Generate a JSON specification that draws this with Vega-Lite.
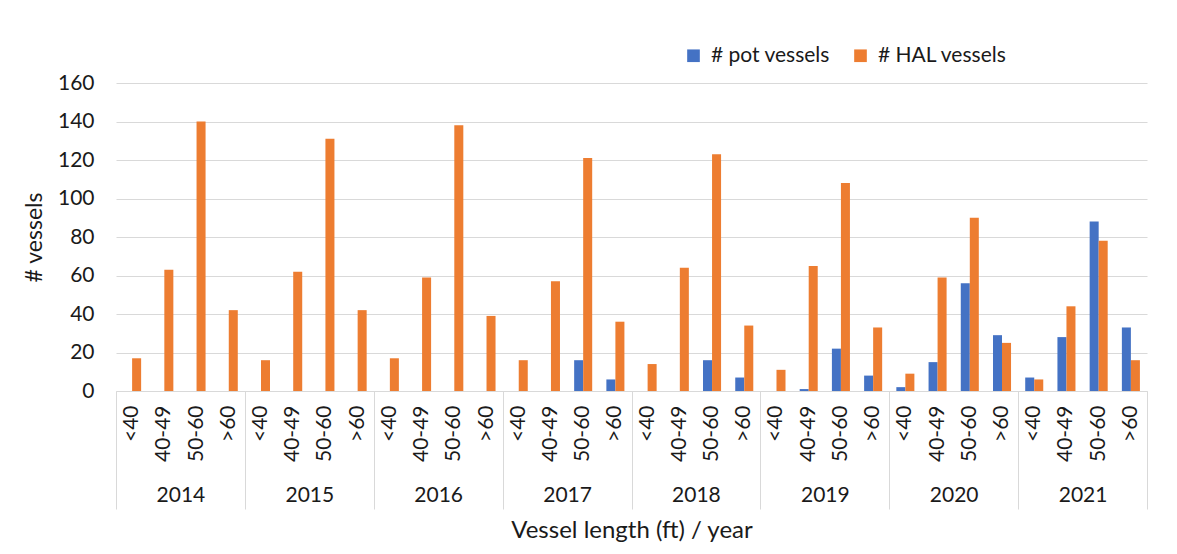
{
  "$schema": "https://vega.github.io/schema/vega-lite/v6.json",
  "width": 1031,
  "height": 308,
  "autosize": {"type": "none"},
  "padding": {"left": 116, "top": 83, "right": 30, "bottom": 163},
  "background": "white",
  "config": {
    "font": "Lato",
    "view": {"stroke": null},
    "axis": {"labelFont": "Lato", "titleFont": "Lato", "labelColor": "#1a1a1a", "titleColor": "#1a1a1a", "titleFontWeight": "normal"},
    "legend": {"labelFont": "Lato", "labelColor": "#1a1a1a"}
  },
  "data": {
    "values": [
      {"year": "2014", "len": "<40", "cat": "2014 <40", "# pot vessels": 0, "# HAL vessels": 17},
      {"year": "2014", "len": "40-49", "cat": "2014 40-49", "# pot vessels": 0, "# HAL vessels": 63},
      {"year": "2014", "len": "50-60", "cat": "2014 50-60", "# pot vessels": 0, "# HAL vessels": 140},
      {"year": "2014", "len": ">60", "cat": "2014 >60", "# pot vessels": 0, "# HAL vessels": 42},
      {"year": "2015", "len": "<40", "cat": "2015 <40", "# pot vessels": 0, "# HAL vessels": 16},
      {"year": "2015", "len": "40-49", "cat": "2015 40-49", "# pot vessels": 0, "# HAL vessels": 62},
      {"year": "2015", "len": "50-60", "cat": "2015 50-60", "# pot vessels": 0, "# HAL vessels": 131},
      {"year": "2015", "len": ">60", "cat": "2015 >60", "# pot vessels": 0, "# HAL vessels": 42},
      {"year": "2016", "len": "<40", "cat": "2016 <40", "# pot vessels": 0, "# HAL vessels": 17},
      {"year": "2016", "len": "40-49", "cat": "2016 40-49", "# pot vessels": 0, "# HAL vessels": 59},
      {"year": "2016", "len": "50-60", "cat": "2016 50-60", "# pot vessels": 0, "# HAL vessels": 138},
      {"year": "2016", "len": ">60", "cat": "2016 >60", "# pot vessels": 0, "# HAL vessels": 39},
      {"year": "2017", "len": "<40", "cat": "2017 <40", "# pot vessels": 0, "# HAL vessels": 16},
      {"year": "2017", "len": "40-49", "cat": "2017 40-49", "# pot vessels": 0, "# HAL vessels": 57},
      {"year": "2017", "len": "50-60", "cat": "2017 50-60", "# pot vessels": 16, "# HAL vessels": 121},
      {"year": "2017", "len": ">60", "cat": "2017 >60", "# pot vessels": 6, "# HAL vessels": 36},
      {"year": "2018", "len": "<40", "cat": "2018 <40", "# pot vessels": 0, "# HAL vessels": 14},
      {"year": "2018", "len": "40-49", "cat": "2018 40-49", "# pot vessels": 0, "# HAL vessels": 64},
      {"year": "2018", "len": "50-60", "cat": "2018 50-60", "# pot vessels": 16, "# HAL vessels": 123},
      {"year": "2018", "len": ">60", "cat": "2018 >60", "# pot vessels": 7, "# HAL vessels": 34},
      {"year": "2019", "len": "<40", "cat": "2019 <40", "# pot vessels": 0, "# HAL vessels": 11},
      {"year": "2019", "len": "40-49", "cat": "2019 40-49", "# pot vessels": 1, "# HAL vessels": 65},
      {"year": "2019", "len": "50-60", "cat": "2019 50-60", "# pot vessels": 22, "# HAL vessels": 108},
      {"year": "2019", "len": ">60", "cat": "2019 >60", "# pot vessels": 8, "# HAL vessels": 33},
      {"year": "2020", "len": "<40", "cat": "2020 <40", "# pot vessels": 2, "# HAL vessels": 9},
      {"year": "2020", "len": "40-49", "cat": "2020 40-49", "# pot vessels": 15, "# HAL vessels": 59},
      {"year": "2020", "len": "50-60", "cat": "2020 50-60", "# pot vessels": 56, "# HAL vessels": 90},
      {"year": "2020", "len": ">60", "cat": "2020 >60", "# pot vessels": 29, "# HAL vessels": 25},
      {"year": "2021", "len": "<40", "cat": "2021 <40", "# pot vessels": 7, "# HAL vessels": 6},
      {"year": "2021", "len": "40-49", "cat": "2021 40-49", "# pot vessels": 28, "# HAL vessels": 44},
      {"year": "2021", "len": "50-60", "cat": "2021 50-60", "# pot vessels": 88, "# HAL vessels": 78},
      {"year": "2021", "len": ">60", "cat": "2021 >60", "# pot vessels": 33, "# HAL vessels": 16}
    ]
  },
  "transform": [
    {"fold": ["# pot vessels", "# HAL vessels"], "as": ["series", "n"]}
  ],
  "layer": [
    {
      "mark": {"type": "bar"},
      "encoding": {
        "x": {
          "field": "cat", "type": "nominal", "sort": null,
          "scale": {"paddingInner": 0.44, "paddingOuter": 0.22},
          "axis": {
            "orient": "bottom", "title": null, "labelExpr": "split(datum.value, ' ')[1]",
            "labelAngle": 270, "labelFontSize": 21, "labelPadding": 14,
            "ticks": false, "domain": true, "domainColor": "#d9d9d9", "domainWidth": 1, "grid": false
          }
        },
        "xOffset": {"field": "series", "type": "nominal", "sort": ["# pot vessels", "# HAL vessels"]},
        "y": {
          "field": "n", "type": "quantitative",
          "scale": {"domain": [0, 160], "nice": false},
          "axis": {
            "title": "# vessels", "titleFontSize": 23, "titlePadding": 11,
            "values": [0, 20, 40, 60, 80, 100, 120, 140, 160],
            "labelFontSize": 21, "labelPadding": 22, "ticks": false, "domain": false,
            "grid": true, "gridColor": "#d9d9d9", "gridWidth": 1
          }
        },
        "color": {
          "field": "series", "type": "nominal",
          "scale": {"domain": ["# pot vessels", "# HAL vessels"], "range": ["#4472C4", "#ED7D31"]},
          "legend": {
            "title": null, "orient": "none", "direction": "horizontal",
            "legendX": 567, "legendY": -38, "symbolType": "square", "symbolSize": 160,
            "symbolStrokeWidth": 0, "labelFontSize": 21, "labelOffset": 7, "columnPadding": 20
          }
        }
      }
    },
    {
      "mark": {"type": "rule", "opacity": 0},
      "encoding": {
        "x": {
          "field": "year", "type": "nominal",
          "scale": {"paddingInner": 0, "paddingOuter": 0},
          "axis": {
            "orient": "bottom", "title": "Vessel length (ft) / year", "titleFontSize": 24, "titlePadding": 9,
            "tickBand": "extent", "ticks": true, "tickSize": 118, "tickColor": "#d9d9d9", "tickWidth": 1,
            "labelAngle": 0, "labelFontSize": 21, "labelBaseline": "middle", "labelPadding": -14,
            "domain": false, "grid": false
          }
        }
      }
    }
  ],
  "resolve": {"scale": {"x": "independent"}, "axis": {"x": "independent"}}
}
